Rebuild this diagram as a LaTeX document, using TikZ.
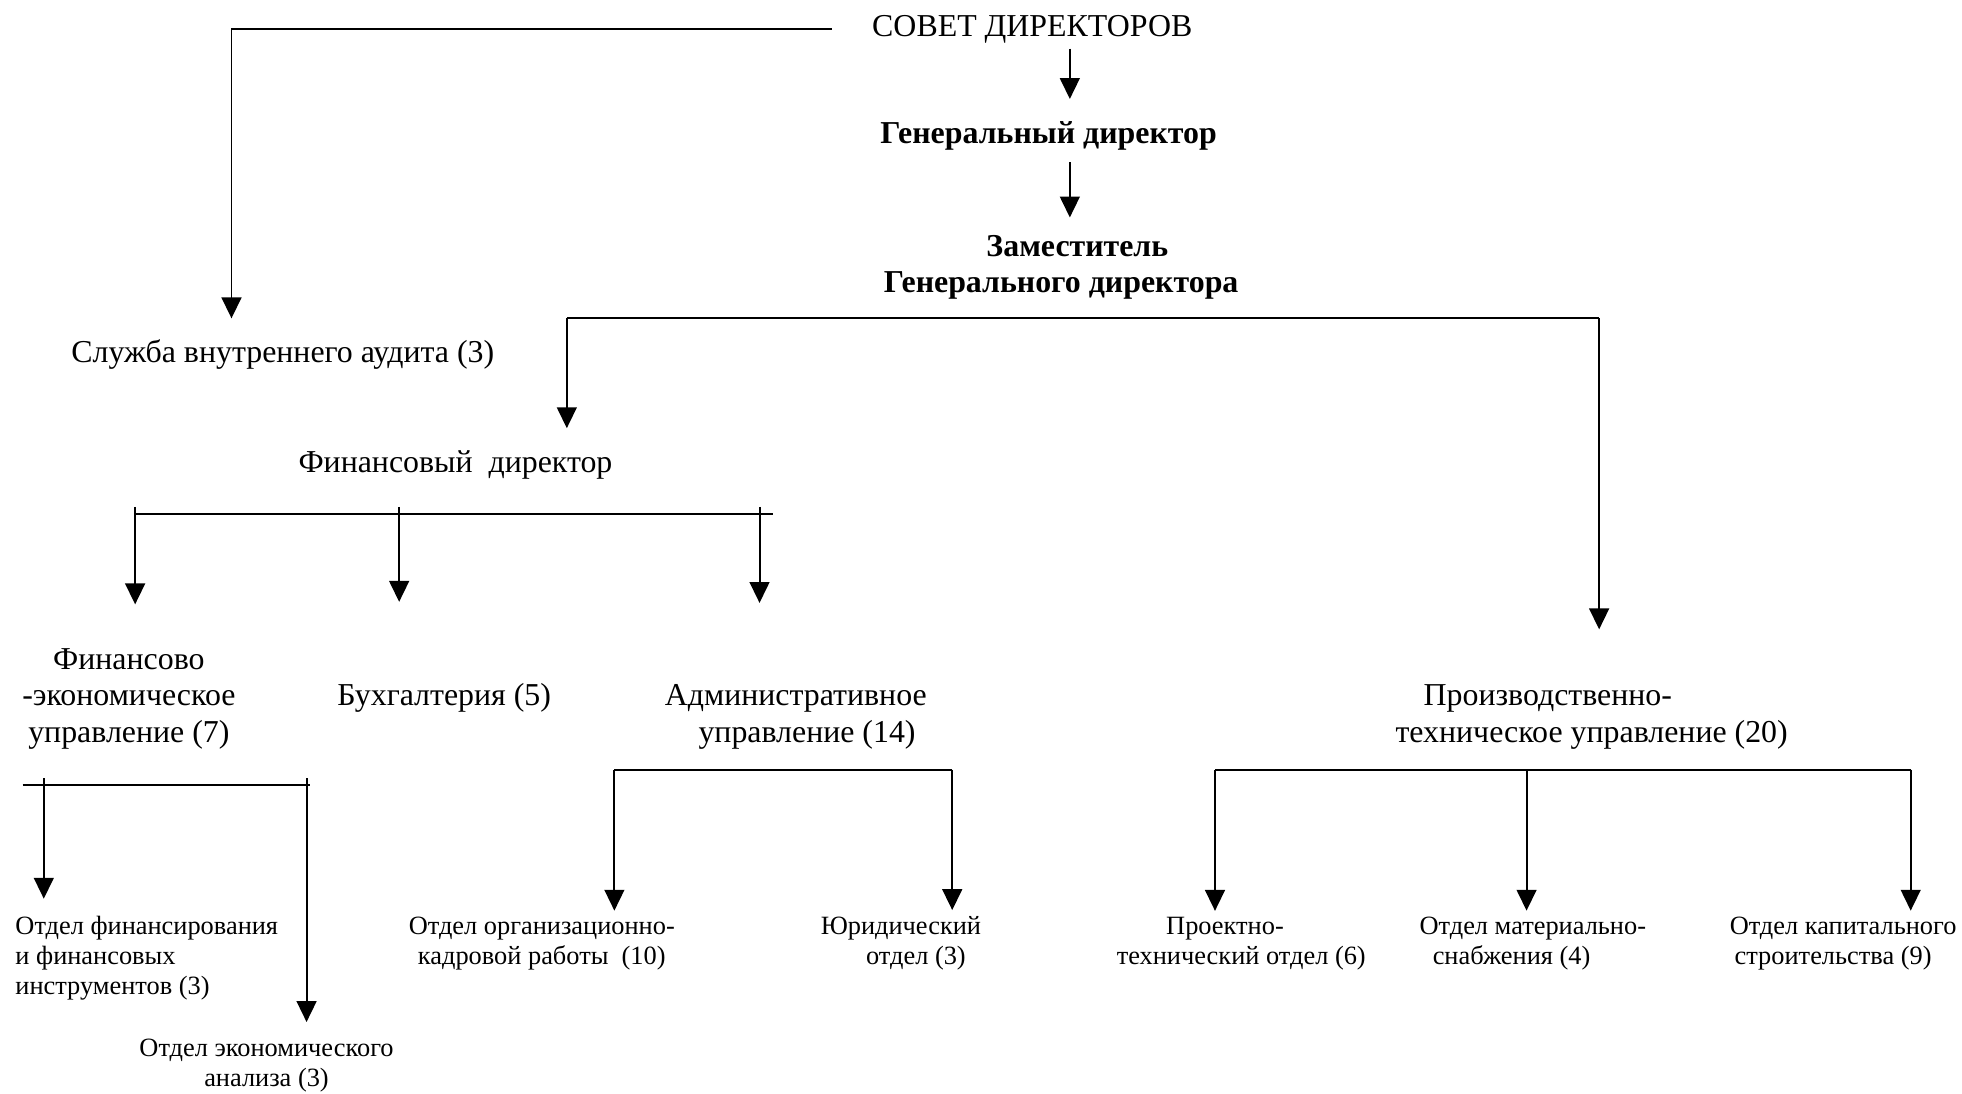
\documentclass[tikz,border=0pt]{standalone}
\usepackage{fontspec}
\setmainfont{Liberation Serif}
\usetikzlibrary{positioning,arrows.meta}

\begin{document}
\begin{tikzpicture}[x=0.02cm,y=-0.02cm]
 \tikzset{
  line/.style={line width=0.9pt},
  arrow/.style={line width=0.9pt,-{Triangle[width=9pt,length=9.5pt]}},
  unit/.style={inner sep=0pt,anchor=base,align=center,font=\fontsize{14.5}{16.5}\selectfont},
  chief/.style={unit,font=\fontsize{14.5}{16.5}\selectfont\bfseries},
  dept/.style={inner sep=0pt,anchor=base,align=center,font=\fontsize{12}{13.6}\selectfont}
 }
 \useasboundingbox (0,0) rectangle (1568,874);

 % top of the chart (multi-line nodes sit on their last line)
 \node[unit] (sovet) at (825,29) {СОВЕТ ДИРЕКТОРОВ};
 \node[chief] (gen) at (838,115) {Генеральный директор};
 \node[chief] (zam) at (848,234) {\hspace*{0.52cm}Заместитель\\Генерального директора};
 \node[unit] (audit) at (226,290) {Служба внутреннего аудита (3)};
 \node[unit] (findir) at (364,378) {Финансовый\ \ директор};

 % second level
 \node[unit] (fineco) at (103,593) {Финансово\\-экономическое\\управление (7)};
 \node[unit] (buh) at (355,564) {Бухгалтерия (5)};
 \node[unit] (adm) at (645,593) {Административное\hspace*{0.36cm}\\управление (14)};
 \node[unit] (prod) at (1272,593) {Производственно-\hspace*{1.4cm}\\техническое управление (20)};

 % departments
 \node[dept,align=left,anchor=base west] (otfin) at (12,795) {Отдел финансирования\\и финансовых\\инструментов (3)};
 \node[dept] (otek) at (213,868) {Отдел экономического\\анализа (3)};
 \node[dept] (otkadr) at (433,771) {Отдел организационно-\\кадровой работы\ \ (10)};
 \node[dept] (otjur) at (732,771) {Юридический\hspace*{0.48cm}\\отдел (3)};
 \node[dept] (otproj) at (992,771) {Проектно-\hspace*{0.52cm}\\технический отдел (6)};
 \node[dept] (otmat) at (1208,771) {\hspace*{0.68cm}Отдел материально-\\снабжения (4)};
 \node[dept] (otkap) at (1465,771) {\hspace*{0.32cm}Отдел капитального\\строительства (9)};

 % junctions
 \coordinate (z1) at (453,254);
 \coordinate (z2) at (1278,254);
 \coordinate (fl) at (107,411);
 \coordinate (fr) at (618,411);
 \coordinate (f1) at (108,405);
 \coordinate (f2) at (319,405);
 \coordinate (f3) at (607,405);
 \coordinate (el) at (18,627);
 \coordinate (er) at (248,627);
 \coordinate (e1) at (35,622);
 \coordinate (e2) at (245,622);
 \coordinate (a1) at (491,615);
 \coordinate (a2) at (761,615);
 \coordinate (p1) at (971,615);
 \coordinate (p2) at (1220,615);
 \coordinate (p3) at (1527,615);

 \draw[arrow,shorten <=0.64cm,shorten >=0.34cm] (sovet.west) -| ([xshift=-0.82cm]audit.north);
 \draw[arrow,shorten <=0.08cm,shorten >=0.36cm] ([xshift=0.6cm]sovet.south) -- ([xshift=0.6cm]sovet.south |- gen.north);
 \draw[arrow,shorten <=0.18cm,shorten >=0.28cm] ([xshift=0.34cm]gen.south) -- ([xshift=0.34cm]gen.south |- zam.north);

 \draw[line] (z1) -- (z2);
 \draw[arrow,shorten >=0.36cm] (z1) -- (z1 |- findir.north);
 \draw[arrow,shorten >=0.88cm] (z2) -- (z2 |- prod.north);

 \draw[line] (fl) -- (fr);
 \draw[arrow,shorten >=0.7cm] (f1) -- (f1 |- fineco.north);
 \draw[arrow,shorten >=1.3cm] (f2) -- (f2 |- buh.north);
 \draw[arrow,shorten >=1.3cm] (f3) -- (f3 |- adm.north);

 \draw[line] (el) -- (er);
 \draw[arrow,shorten >=0.28cm] (e1) -- (e1 |- otfin.north);
 \draw[arrow,shorten >=0.26cm] (e2) -- (e2 |- otek.north);

 \draw[line] (a1) -- (a2);
 \draw[arrow,shorten >=0.1cm] (a1) -- (a1 |- otkadr.north);
 \draw[arrow,shorten >=0.1cm] (a2) -- (a2 |- otjur.north);

 \draw[line] (p1) -- (p3);
 \draw[arrow,shorten >=0.1cm] (p1) -- (p1 |- otproj.north);
 \draw[arrow,shorten >=0.1cm] (p2) -- (p2 |- otmat.north);
 \draw[arrow,shorten >=0.1cm] (p3) -- (p3 |- otkap.north);
\end{tikzpicture}
\end{document}
